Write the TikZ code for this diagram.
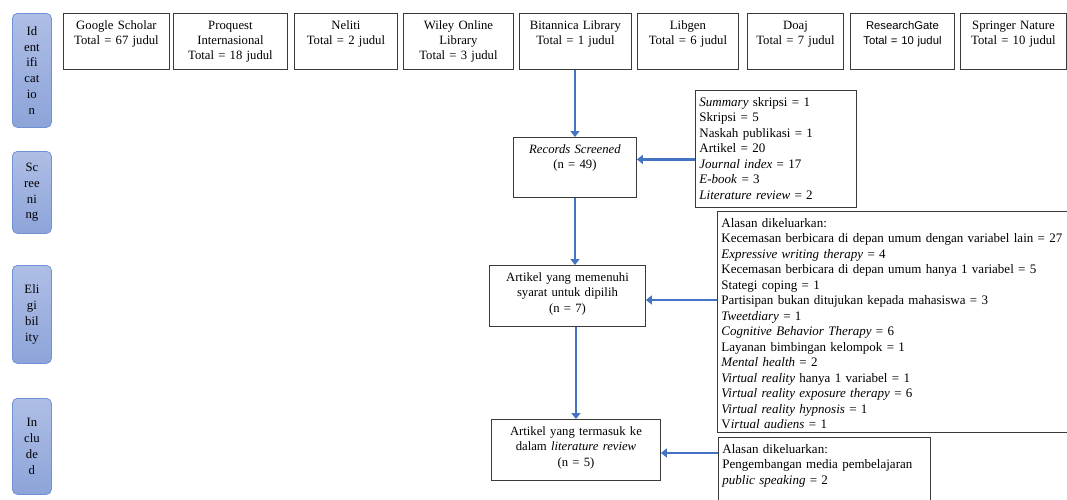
\documentclass[tikz,border=0pt]{standalone}
\usepackage{fontspec}
\setmainfont{Liberation Serif}
\newfontfamily\rgatefont{Liberation Sans}
\usetikzlibrary{arrows.meta}
\definecolor{flowblue}{HTML}{4472C4}
\definecolor{phasetop}{HTML}{AEBEE5}
\definecolor{phasebot}{HTML}{8DA4D9}
\definecolor{phaseline}{HTML}{7092D4}
\definecolor{boxline}{HTML}{3A3A3A}

\begin{document}
\begin{tikzpicture}[
  x=1pt,y=-1pt,
  font=\fontsize{12.7}{15}\selectfont,
  >={Triangle[length=6pt,width=9pt]},
  flow/.style={->,line width=2.8pt,draw=flowblue},
  phase/.style={draw=phaseline,line width=0.8pt,rounded corners=5pt,
                top color=phasetop,bottom color=phasebot,anchor=north west,
                align=center,minimum width=39pt,inner sep=1pt,
                font=\fontsize{12.7}{15.8}\selectfont},
  source/.style={draw=boxline,line width=0.9pt,anchor=north west,
                 align=center,inner sep=3pt,text height=13pt,text depth=37pt},
  stage/.style={draw=boxline,line width=0.9pt,anchor=north west,
                align=center,inner sep=3pt,text height=13pt,
                font=\fontsize{12.7}{15.5}\selectfont},
  reason/.style={draw=boxline,line width=0.9pt,anchor=north west,
                 align=left,inner sep=4pt,text height=12pt,
                 font=\fontsize{13}{15.5}\selectfont}
]
\useasboundingbox (0,0) rectangle (1067,499);

\node[phase,minimum height=114pt] (ident) at (12,13) {Id\\ent\\ifi\\cat\\io\\n};
\node[phase,minimum height=82pt] (screen) at (12,151) {Sc\\ree\\ni\\ng};
\node[phase,minimum height=98pt] (elig) at (12,265) {Eli\\gi\\bil\\ity};
\node[phase,minimum height=96pt] (incl) at (12,398) {In\\clu\\de\\d};

\node[source,text width=100pt] (google) at (63,13) {Google Scholar\\Total = 67 judul};
\node[source,text width=108pt] (proquest) at (173,13) {Proquest\\Internasional\\Total = 18 judul};
\node[source,text width=97pt] (neliti) at (294,13) {Neliti\\Total = 2 judul};
\node[source,text width=104pt] (wiley) at (403,13) {Wiley Online\\Library\\Total = 3 judul};
\node[source,text width=106pt] (bitannica) at (519,13) {Bitannica Library\\Total = 1 judul};
\node[source,text width=95pt] (libgen) at (637,13) {Libgen\\Total = 6 judul};
\node[source,text width=90pt] (doaj) at (747,13) {Doaj\\Total = 7 judul};
\node[source,text width=98pt,font=\rgatefont\fontsize{11.3}{15}\selectfont] (rgate) at (850,13)
  {ResearchGate\\Total = 10 judul};
\node[source,text width=100pt] (springer) at (960,13) {Springer Nature\\Total = 10 judul};

\node[stage,text width=117pt,text depth=41pt] (records) at (513,137)
  {\textit{Records Screened}\\(n = 49)};
\node[stage,text width=150pt,text depth=42pt] (memenuhi) at (489,265)
  {Artikel yang memenuhi\\syarat untuk dipilih\\(n = 7)};
\node[stage,text width=163pt,text depth=42pt] (termasuk) at (491,419)
  {Artikel yang termasuk ke\\dalam \textit{literature review}\\(n = 5)};

\node[reason,text width=153pt,text depth=97pt] (summary) at (695,90)
  {\textit{Summary} skripsi = 1\\Skripsi = 5\\Naskah publikasi = 1\\Artikel = 20\\
   \textit{Journal index} = 17\\\textit{E-book} = 3\\\textit{Literature review} = 2};
\node[reason,text width=347pt,text depth=201pt] (alasan) at (717,211)
  {Alasan dikeluarkan:\\
   Kecemasan berbicara di depan umum dengan variabel lain = 27\\
   \textit{Expressive writing therapy} = 4\\
   Kecemasan berbicara di depan umum hanya 1 variabel = 5\\
   Stategi coping = 1\\
   Partisipan bukan ditujukan kepada mahasiswa = 3\\
   \textit{Tweetdiary} = 1\\
   \textit{Cognitive Behavior Therapy} = 6\\
   Layanan bimbingan kelompok = 1\\
   \textit{Mental health} = 2\\
   \textit{Virtual reality} hanya 1 variabel = 1\\
   \textit{Virtual reality exposure therapy} = 6\\
   \textit{Virtual reality hypnosis} = 1\\
   V\textit{irtual audiens} = 1};
\node[reason,text width=204pt,text depth=50pt] (alasanlit) at (718,437)
  {Alasan dikeluarkan:\\Pengembangan media pembelajaran\\\textit{public speaking} = 2};

\coordinate (screenin) at ([yshift=8pt]records.east);
\coordinate (eligin) at ([yshift=-4pt]memenuhi.east);
\coordinate (inclin) at ([yshift=-3pt]termasuk.east);

\draw[flow] (records.north |- bitannica.south) -- (records.north);
\draw[flow] (records.south) -- (records.south |- memenuhi.north);
\draw[flow] (termasuk.north |- memenuhi.south) -- (termasuk.north);
\draw[flow] (summary.west |- screenin) -- (screenin);
\draw[flow] (alasan.west |- eligin) -- (eligin);
\draw[flow] (alasanlit.west |- inclin) -- (inclin);
\end{tikzpicture}
\end{document}
